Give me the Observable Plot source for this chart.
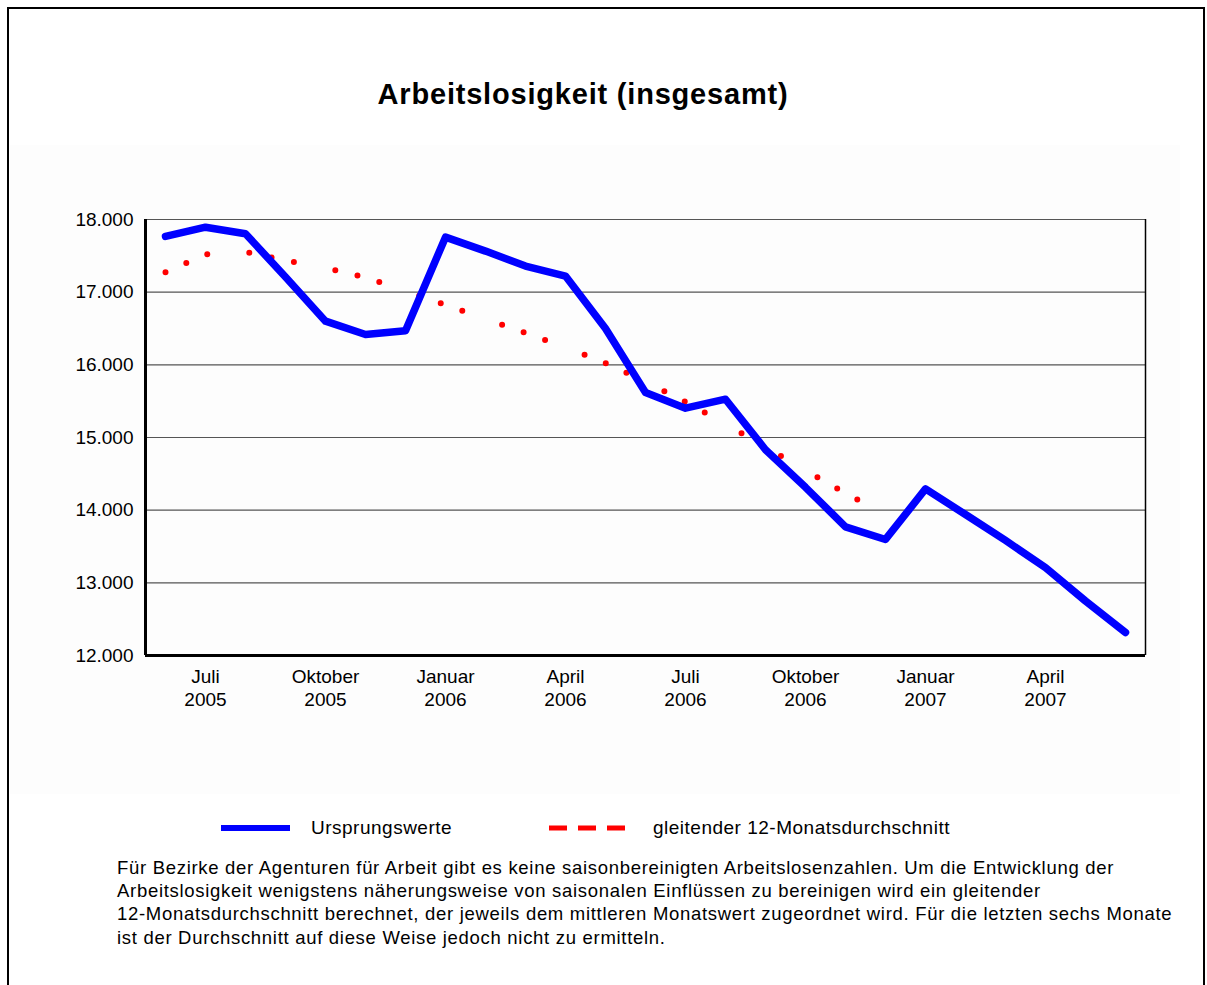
<!DOCTYPE html>
<html>
<head>
<meta charset="utf-8">
<script src="https://cdn.jsdelivr.net/npm/d3@7"></script>
<script src="https://cdn.jsdelivr.net/npm/@observablehq/plot@0.6"></script>
<style>
  html, body { margin: 0; padding: 0; background: #fff; }
  body { width: 1207px; height: 985px; position: relative; overflow: hidden; font-family: Arial, "Liberation Sans", sans-serif; color: #000; }
  #frame { position: absolute; left: 7px; top: 7px; width: 1194px; height: 1100px; border: 2px solid #000; }
  #panel { position: absolute; left: 10px; top: 145px; width: 1170px; height: 649px; background: #fdfdfd; }
  #title { position: absolute; left: 0; width: 1166px; top: 76px; text-align: center; font-weight: bold; font-size: 29px; letter-spacing: 0.8px; line-height: 36px; }
  #chart { position: absolute; left: 0; top: 140px; }
  .leg { position: absolute; top: 816px; font-size: 19px; letter-spacing: 0.5px; line-height: 24px; white-space: nowrap; }
  .sw { position: absolute; }
  #note { position: absolute; left: 117px; top: 856px; font-size: 18.5px; letter-spacing: 0.7px; line-height: 23.2px; white-space: nowrap; }
</style>
</head>
<body>
<div id="frame"></div>
<div id="panel"></div>
<div id="title">Arbeitslosigkeit (insgesamt)</div>
<div id="chart"></div>
<svg class="sw" style="left:218px;top:822px" width="76" height="12"><line x1="3" y1="6" x2="72" y2="6" stroke="#0000ff" stroke-width="6"/></svg>
<div class="leg" style="left:311px">Ursprungswerte</div>
<svg class="sw" style="left:546px;top:822px" width="84" height="12"><line x1="3" y1="6" x2="80" y2="6" stroke="#ff0000" stroke-width="5" stroke-dasharray="18,11"/></svg>
<div class="leg" style="left:653px">gleitender 12-Monatsdurchschnitt</div>
<div id="note">Für Bezirke der Agenturen für Arbeit gibt es keine saisonbereinigten Arbeitslosenzahlen. Um die Entwicklung der<br>Arbeitslosigkeit wenigstens näherungsweise von saisonalen Einflüssen zu bereinigen wird ein gleitender<br>12-Monatsdurchschnitt berechnet, der jeweils dem mittleren Monatswert zugeordnet wird. Für die letzten sechs Monate<br>ist der Durchschnitt auf diese Weise jedoch nicht zu ermitteln.</div>
<script>
// Months June 2005 – June 2007
const months = ["2005-06","2005-07","2005-08","2005-09","2005-10","2005-11","2005-12",
  "2006-01","2006-02","2006-03","2006-04","2006-05","2006-06","2006-07","2006-08","2006-09","2006-10","2006-11","2006-12",
  "2007-01","2007-02","2007-03","2007-04","2007-05","2007-06"];
// Ursprungswerte (original values)
const ursprungswerte = [17767, 17894, 17804, 17209, 16601, 16418, 16468,
  17757, 17565, 17359, 17222, 16501, 15618, 15404, 15527, 14831, 14314, 13771, 13597,
  14292, 13940, 13583, 13209, 12750, 12317];
// gleitender 12-Monatsdurchschnitt (June 2005 – December 2006)
const durchschnitt = [17273, 17520, 17555, 17434, 17336, 17202, 17018,
  16825, 16633, 16439, 16242, 16025, 15766, 15490, 15187, 14869, 14547, 14231, 13950];
// y ticks
const yTicks = [12000, 13000, 14000, 15000, 16000, 17000, 18000];
// x tick labels
const tickMonthIndex = [1, 4, 7, 10, 13, 16, 19, 22];
const tickMonthNames = ["Juli", "Oktober", "Januar", "April", "Juli", "Oktober", "Januar", "April"];
const tickYears = ["2005", "2005", "2006", "2006", "2006", "2006", "2007", "2007"];

const urs = ursprungswerte.map((v, i) => ({i, month: months[i], value: v}));
const avg = durchschnitt.map((v, i) => ({i, month: months[i], value: v}));

const de = d3.formatLocale({decimal: ",", thousands: ".", grouping: [3], currency: ["", " €"]});
const fmt = de.format(",d");

const chart = Plot.plot({
  width: 1207,
  height: 600,
  marginLeft: 145,
  marginRight: 62,
  marginTop: 79,
  marginBottom: 85,
  style: {fontFamily: "Arial, 'Liberation Sans', sans-serif", fontSize: "19px", color: "#000", background: "transparent", overflow: "visible"},
  x: {type: "linear", domain: [-0.5, months.length - 0.5]},
  y: {domain: [12000, 18000]},
  marks: [
    Plot.gridY(yTicks, {stroke: "#555", strokeOpacity: 1, strokeWidth: 1.2}),
    Plot.ruleX([months.length - 0.5], {stroke: "#000", strokeWidth: 1.5}),
    Plot.axisY(yTicks, {tickSize: 0, tickPadding: 12, tickFormat: fmt, label: null, fontSize: 19, style: {letterSpacing: "0.3px"}}),
    Plot.axisX(tickMonthIndex, {tickSize: 0, tickPadding: 11.5, label: null, fontSize: 19, lineHeight: 1.2, style: {letterSpacing: "0.4px"},
      tickFormat: d => { const k = tickMonthIndex.indexOf(d); return tickMonthNames[k] + "\n" + tickYears[k]; }}),
    Plot.line(avg, {x: "i", y: "value", stroke: "#ff0000", strokeWidth: 6, strokeLinecap: "round",
      strokeDasharray: "0,22.8,0,22.8,0,42.2"}),
    Plot.line(urs, {x: "i", y: "value", stroke: "#0000ff", strokeWidth: 7.5, strokeLinecap: "round", strokeLinejoin: "round"}),
    Plot.ruleX([-0.5], {stroke: "#000", strokeWidth: 3}),
    Plot.ruleY([12000], {stroke: "#000", strokeWidth: 3})
  ]
});
document.getElementById("chart").appendChild(chart);
</script>
</body>
</html>
